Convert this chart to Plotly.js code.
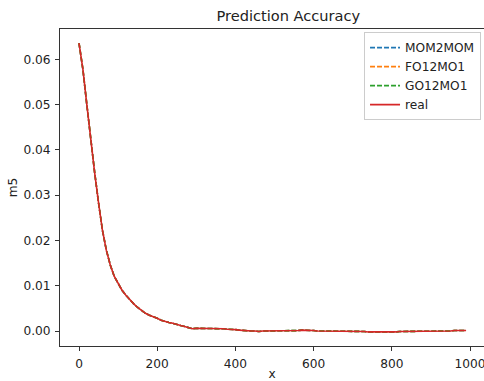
<!DOCTYPE html>
<html>
<head>
<meta charset="utf-8">
<script src="https://cdn.plot.ly/plotly-3.0.1.min.js"></script>
<style>html,body{margin:0;padding:0;background:#fff;}#chart{width:484px;height:381px;}</style>
</head>
<body>
<div id="chart"></div>
<script>
const xs = [0,10,20,30,40,50,60,70,80,90,100,110,120,130,140,150,160,170,180,190,200,210,220,230,240,250,260,270,280,290,300,310,320,330,340,350,360,370,380,390,400,410,420,430,440,450,460,470,480,490,500,510,520,530,540,550,560,570,580,590,600,610,620,630,640,650,660,670,680,690,700,710,720,730,740,750,760,770,780,790,800,810,820,830,840,850,860,870,880,890,900,910,920,930,940,950,960,970,980,990];
const real = [0.0636,0.0578,0.0500,0.0422,0.0350,0.0283,0.0222,0.0178,0.0146,0.0121,0.0104,0.0090,0.0079,0.0069,0.0060,0.0052,0.0045,0.0039,0.0035,0.0032,0.0028,0.0024,0.0021,0.0019,0.0017,0.0014,0.0012,0.0010,0.0008,0.0005,0.0006,0.0006,0.0006,0.0006,0.0006,0.0005,0.0005,0.0005,0.0004,0.0004,0.0003,0.0002,0.0001,0.0001,0.0000,0.0000,-0.0001,0.0000,0.0000,0.0000,0.0000,0.0000,0.0000,0.0000,0.0000,0.0001,0.0001,0.0002,0.0002,0.0002,0.0001,0.0000,0.0000,-0.0001,-0.0001,-0.0001,-0.0001,-0.0001,-0.0001,-0.0001,-0.0001,-0.0001,-0.0001,-0.0001,-0.0002,-0.0002,-0.0002,-0.0003,-0.0003,-0.0003,-0.0002,-0.0002,-0.0001,-0.0001,-0.0001,-0.0001,-0.0001,0.0000,0.0000,0.0000,0.0000,0.0000,0.0000,0.0000,0.0000,0.0000,0.0001,0.0001,0.0001,0.0001];
const mom2mom = [0.0636,0.0577,0.0500,0.0423,0.0350,0.0284,0.0222,0.0178,0.0146,0.0121,0.0104,0.0090,0.0079,0.0069,0.0060,0.0052,0.0045,0.0039,0.0035,0.0032,0.0028,0.0024,0.0021,0.0019,0.0017,0.0014,0.0012,0.0010,0.0008,0.0005,0.0006,0.0006,0.0006,0.0006,0.0006,0.0005,0.0005,0.0005,0.0004,0.0004,0.0003,0.0002,0.0001,0.0001,0.0000,0.0000,-0.0001,0.0000,0.0000,0.0000,0.0000,0.0000,0.0000,0.0000,0.0000,0.0001,0.0001,0.0002,0.0002,0.0002,0.0001,0.0000,0.0000,-0.0001,-0.0001,-0.0001,-0.0001,-0.0001,-0.0001,-0.0001,-0.0001,-0.0001,-0.0001,-0.0001,-0.0002,-0.0002,-0.0002,-0.0003,-0.0003,-0.0002,-0.0002,-0.0002,-0.0001,-0.0001,-0.0001,-0.0001,-0.0001,0.0000,0.0000,0.0000,0.0000,0.0000,0.0000,0.0000,0.0000,0.0000,0.0001,0.0001,0.0001,0.0001];
const fo12mo1 = [0.0636,0.0578,0.0501,0.0422,0.0350,0.0283,0.0223,0.0178,0.0146,0.0121,0.0104,0.0090,0.0079,0.0069,0.0060,0.0052,0.0045,0.0039,0.0035,0.0032,0.0028,0.0024,0.0021,0.0019,0.0017,0.0014,0.0012,0.0010,0.0008,0.0005,0.0006,0.0006,0.0006,0.0006,0.0006,0.0005,0.0005,0.0005,0.0004,0.0004,0.0003,0.0002,0.0001,0.0001,0.0000,0.0000,-0.0001,0.0000,0.0000,0.0000,0.0000,0.0000,0.0000,0.0000,0.0001,0.0001,0.0001,0.0002,0.0002,0.0002,0.0001,0.0000,0.0000,-0.0001,-0.0001,-0.0001,-0.0001,-0.0001,-0.0001,-0.0001,-0.0001,-0.0001,-0.0001,-0.0001,-0.0002,-0.0002,-0.0002,-0.0003,-0.0003,-0.0003,-0.0002,-0.0002,-0.0001,-0.0001,-0.0001,-0.0001,-0.0001,0.0000,0.0000,0.0000,0.0000,0.0000,0.0000,0.0000,0.0000,0.0000,0.0001,0.0001,0.0001,0.0001];
const go12mo1 = [0.0636,0.0578,0.0500,0.0422,0.0351,0.0283,0.0222,0.0179,0.0146,0.0121,0.0104,0.0090,0.0079,0.0069,0.0060,0.0052,0.0045,0.0039,0.0035,0.0032,0.0028,0.0024,0.0021,0.0019,0.0017,0.0014,0.0012,0.0010,0.0008,0.0005,0.0006,0.0006,0.0006,0.0006,0.0006,0.0005,0.0005,0.0005,0.0004,0.0004,0.0003,0.0002,0.0001,0.0001,0.0000,0.0000,-0.0001,0.0000,0.0000,0.0000,0.0000,0.0000,0.0000,0.0000,0.0000,0.0001,0.0001,0.0002,0.0002,0.0002,0.0001,0.0000,0.0000,-0.0001,-0.0001,-0.0001,-0.0001,-0.0001,-0.0001,-0.0001,-0.0001,-0.0001,-0.0001,-0.0001,-0.0002,-0.0002,-0.0002,-0.0003,-0.0002,-0.0003,-0.0002,-0.0002,-0.0001,-0.0001,-0.0001,-0.0001,-0.0001,0.0000,0.0000,0.0000,0.0000,0.0000,0.0000,0.0000,0.0000,0.0000,0.0001,0.0001,0.0001,0.0001];
const seriesNames = ['MOM2MOM','FO12MO1','GO12MO1','real'];
const seriesColors = ['#1f77b4','#ff7f0e','#2ca02c','#d62728'];

const dashed = '5px,2px';
const traces = [
  {x: xs, y: mom2mom, name: seriesNames[0], mode: 'lines', line: {color: seriesColors[0], width: 1.6, dash: dashed}},
  {x: xs, y: fo12mo1, name: seriesNames[1], mode: 'lines', line: {color: seriesColors[1], width: 1.6, dash: dashed}},
  {x: xs, y: go12mo1, name: seriesNames[2], mode: 'lines', line: {color: seriesColors[2], width: 1.6, dash: dashed}},
  {x: xs, y: real, name: seriesNames[3], mode: 'lines', line: {color: seriesColors[3], width: 1.6}}
];

const font = {family: 'DejaVu Sans', size: 12.2, color: '#222'};
const layout = {
  width: 484, height: 381,
  margin: {l: 60, r: 0, t: 29, b: 35, pad: 0},
  paper_bgcolor: '#fff', plot_bgcolor: '#fff',
  font: font,
  showlegend: true,
  title: {text: 'Prediction Accuracy', font: {family: 'DejaVu Sans', size: 14.6, color: '#222'}, x: 0.5385, xanchor: 'center', y: 0.958, yanchor: 'middle', xref: 'paper'},
  xaxis: {
    range: [-48.6, 1035.8], dtick: 200, tick0: 0,
    showgrid: false, zeroline: false,
    showline: true, linecolor: '#333', linewidth: 1, mirror: true,
    ticks: 'outside', ticklen: 4, tickwidth: 1, tickcolor: '#333',
    ticklabelstandoff: 2, ticklabeloverflow: 'allow',
    tickfont: font,
    title: {text: 'x', font: font, standoff: 7}
  },
  yaxis: {
    range: [-0.00331, 0.0667], dtick: 0.01, tick0: 0, tickformat: '.2f',
    showgrid: false, zeroline: false,
    showline: true, linecolor: '#333', linewidth: 1, mirror: false,
    ticks: 'outside', ticklen: 4, tickwidth: 1, tickcolor: '#333',
    ticklabelstandoff: 2,
    tickfont: font,
    title: {text: 'm5', font: font, standoff: 3}
  },
  legend: {
    x: 0.993, y: 0.99, xanchor: 'right', yanchor: 'top',
    bgcolor: 'rgba(255,255,255,0.8)', bordercolor: '#ccc', borderwidth: 1,
    font: {family: 'DejaVu Sans', size: 12.2, color: '#222'},
    tracegroupgap: 0, itemwidth: 30
  }
};

Plotly.newPlot('chart', traces, layout, {displayModeBar: false, staticPlot: true});
</script>
</body>
</html>
